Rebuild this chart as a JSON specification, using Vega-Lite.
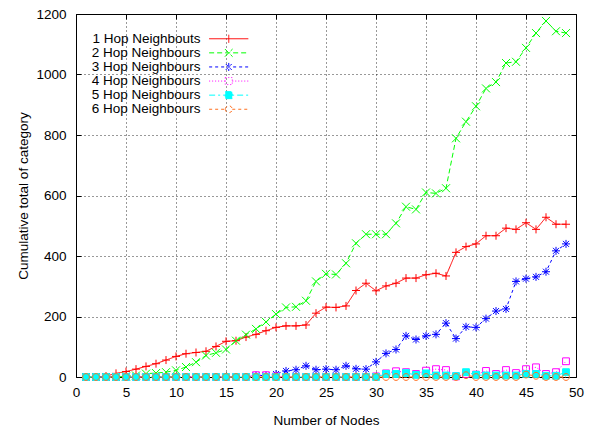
{
  "$schema": "https://vega.github.io/schema/vega-lite/v6.json",
  "width": 500,
  "height": 363,
  "autosize": "none",
  "padding": {"left": 76, "top": 14, "right": 18, "bottom": 53},
  "background": "#ffffff",
  "config": {
    "font": "Liberation Sans",
    "view": {"stroke": "#000000", "strokeWidth": 1},
    "axis": {
      "labelFont": "Liberation Sans",
      "titleFont": "Liberation Sans",
      "labelFontSize": 13.5,
      "titleFontSize": 13.5,
      "titleFontWeight": "normal",
      "labelColor": "#000000",
      "titleColor": "#000000",
      "tickColor": "#000000",
      "domain": false
    }
  },
  "data": {"values": [
    {"s":"1 Hop Neighbouts","n":1,"v":0},{"s":"1 Hop Neighbouts","n":2,"v":0},{"s":"1 Hop Neighbouts","n":3,"v":3},{"s":"1 Hop Neighbouts","n":4,"v":12},{"s":"1 Hop Neighbouts","n":5,"v":18},{"s":"1 Hop Neighbouts","n":6,"v":26},{"s":"1 Hop Neighbouts","n":7,"v":35},{"s":"1 Hop Neighbouts","n":8,"v":44},{"s":"1 Hop Neighbouts","n":9,"v":56},{"s":"1 Hop Neighbouts","n":10,"v":68},
    {"s":"1 Hop Neighbouts","n":11,"v":77},{"s":"1 Hop Neighbouts","n":12,"v":81},{"s":"1 Hop Neighbouts","n":13,"v":85},{"s":"1 Hop Neighbouts","n":14,"v":101},{"s":"1 Hop Neighbouts","n":15,"v":118},{"s":"1 Hop Neighbouts","n":16,"v":120},{"s":"1 Hop Neighbouts","n":17,"v":132},{"s":"1 Hop Neighbouts","n":18,"v":141},{"s":"1 Hop Neighbouts","n":19,"v":153},{"s":"1 Hop Neighbouts","n":20,"v":164},
    {"s":"1 Hop Neighbouts","n":21,"v":169},{"s":"1 Hop Neighbouts","n":22,"v":169},{"s":"1 Hop Neighbouts","n":23,"v":172},{"s":"1 Hop Neighbouts","n":24,"v":211},{"s":"1 Hop Neighbouts","n":25,"v":231},{"s":"1 Hop Neighbouts","n":26,"v":230},{"s":"1 Hop Neighbouts","n":27,"v":235},{"s":"1 Hop Neighbouts","n":28,"v":286},{"s":"1 Hop Neighbouts","n":29,"v":310},{"s":"1 Hop Neighbouts","n":30,"v":285},
    {"s":"1 Hop Neighbouts","n":31,"v":301},{"s":"1 Hop Neighbouts","n":32,"v":310},{"s":"1 Hop Neighbouts","n":33,"v":327},{"s":"1 Hop Neighbouts","n":34,"v":327},{"s":"1 Hop Neighbouts","n":35,"v":338},{"s":"1 Hop Neighbouts","n":36,"v":343},{"s":"1 Hop Neighbouts","n":37,"v":334},{"s":"1 Hop Neighbouts","n":38,"v":412},{"s":"1 Hop Neighbouts","n":39,"v":431},{"s":"1 Hop Neighbouts","n":40,"v":440},
    {"s":"1 Hop Neighbouts","n":41,"v":467},{"s":"1 Hop Neighbouts","n":42,"v":467},{"s":"1 Hop Neighbouts","n":43,"v":492},{"s":"1 Hop Neighbouts","n":44,"v":488},{"s":"1 Hop Neighbouts","n":45,"v":510},{"s":"1 Hop Neighbouts","n":46,"v":488},{"s":"1 Hop Neighbouts","n":47,"v":528},{"s":"1 Hop Neighbouts","n":48,"v":505},{"s":"1 Hop Neighbouts","n":49,"v":505},
    {"s":"2 Hop Neighbours","n":1,"v":0},{"s":"2 Hop Neighbours","n":2,"v":0},{"s":"2 Hop Neighbours","n":3,"v":0},{"s":"2 Hop Neighbours","n":4,"v":0},{"s":"2 Hop Neighbours","n":5,"v":2},{"s":"2 Hop Neighbours","n":6,"v":5},{"s":"2 Hop Neighbours","n":7,"v":11},{"s":"2 Hop Neighbours","n":8,"v":13},{"s":"2 Hop Neighbours","n":9,"v":16},{"s":"2 Hop Neighbours","n":10,"v":22},
    {"s":"2 Hop Neighbours","n":11,"v":33},{"s":"2 Hop Neighbours","n":12,"v":49},{"s":"2 Hop Neighbours","n":13,"v":71},{"s":"2 Hop Neighbours","n":14,"v":80},{"s":"2 Hop Neighbours","n":15,"v":91},{"s":"2 Hop Neighbours","n":16,"v":120},{"s":"2 Hop Neighbours","n":17,"v":140},{"s":"2 Hop Neighbours","n":18,"v":159},{"s":"2 Hop Neighbours","n":19,"v":182},{"s":"2 Hop Neighbours","n":20,"v":208},
    {"s":"2 Hop Neighbours","n":21,"v":230},{"s":"2 Hop Neighbours","n":22,"v":232},{"s":"2 Hop Neighbours","n":23,"v":252},{"s":"2 Hop Neighbours","n":24,"v":316},{"s":"2 Hop Neighbours","n":25,"v":341},{"s":"2 Hop Neighbours","n":26,"v":339},{"s":"2 Hop Neighbours","n":27,"v":376},{"s":"2 Hop Neighbours","n":28,"v":442},{"s":"2 Hop Neighbours","n":29,"v":472},{"s":"2 Hop Neighbours","n":30,"v":472},
    {"s":"2 Hop Neighbours","n":31,"v":472},{"s":"2 Hop Neighbours","n":32,"v":508},{"s":"2 Hop Neighbours","n":33,"v":563},{"s":"2 Hop Neighbours","n":34,"v":554},{"s":"2 Hop Neighbours","n":35,"v":610},{"s":"2 Hop Neighbours","n":36,"v":607},{"s":"2 Hop Neighbours","n":37,"v":624},{"s":"2 Hop Neighbours","n":38,"v":789},{"s":"2 Hop Neighbours","n":39,"v":844},{"s":"2 Hop Neighbours","n":40,"v":895},
    {"s":"2 Hop Neighbours","n":41,"v":954},{"s":"2 Hop Neighbours","n":42,"v":975},{"s":"2 Hop Neighbours","n":43,"v":1038},{"s":"2 Hop Neighbours","n":44,"v":1042},{"s":"2 Hop Neighbours","n":45,"v":1088},{"s":"2 Hop Neighbours","n":46,"v":1137},{"s":"2 Hop Neighbours","n":47,"v":1177},{"s":"2 Hop Neighbours","n":48,"v":1143},{"s":"2 Hop Neighbours","n":49,"v":1137},
    {"s":"3 Hop Neighbours","n":1,"v":0},{"s":"3 Hop Neighbours","n":2,"v":0},{"s":"3 Hop Neighbours","n":3,"v":0},{"s":"3 Hop Neighbours","n":4,"v":0},{"s":"3 Hop Neighbours","n":5,"v":0},{"s":"3 Hop Neighbours","n":6,"v":0},{"s":"3 Hop Neighbours","n":7,"v":0},{"s":"3 Hop Neighbours","n":8,"v":0},{"s":"3 Hop Neighbours","n":9,"v":0},{"s":"3 Hop Neighbours","n":10,"v":0},
    {"s":"3 Hop Neighbours","n":11,"v":0},{"s":"3 Hop Neighbours","n":12,"v":0},{"s":"3 Hop Neighbours","n":13,"v":0},{"s":"3 Hop Neighbours","n":14,"v":0},{"s":"3 Hop Neighbours","n":15,"v":0},{"s":"3 Hop Neighbours","n":16,"v":0},{"s":"3 Hop Neighbours","n":17,"v":0},{"s":"3 Hop Neighbours","n":18,"v":5},{"s":"3 Hop Neighbours","n":19,"v":5},{"s":"3 Hop Neighbours","n":20,"v":10},
    {"s":"3 Hop Neighbours","n":21,"v":20},{"s":"3 Hop Neighbours","n":22,"v":24},{"s":"3 Hop Neighbours","n":23,"v":37},{"s":"3 Hop Neighbours","n":24,"v":24},{"s":"3 Hop Neighbours","n":25,"v":26},{"s":"3 Hop Neighbours","n":26,"v":24},{"s":"3 Hop Neighbours","n":27,"v":37},{"s":"3 Hop Neighbours","n":28,"v":27},{"s":"3 Hop Neighbours","n":29,"v":26},{"s":"3 Hop Neighbours","n":30,"v":50},
    {"s":"3 Hop Neighbours","n":31,"v":78},{"s":"3 Hop Neighbours","n":32,"v":91},{"s":"3 Hop Neighbours","n":33,"v":136},{"s":"3 Hop Neighbours","n":34,"v":124},{"s":"3 Hop Neighbours","n":35,"v":136},{"s":"3 Hop Neighbours","n":36,"v":141},{"s":"3 Hop Neighbours","n":37,"v":178},{"s":"3 Hop Neighbours","n":38,"v":127},{"s":"3 Hop Neighbours","n":39,"v":166},{"s":"3 Hop Neighbours","n":40,"v":164},
    {"s":"3 Hop Neighbours","n":41,"v":193},{"s":"3 Hop Neighbours","n":42,"v":218},{"s":"3 Hop Neighbours","n":43,"v":225},{"s":"3 Hop Neighbours","n":44,"v":316},{"s":"3 Hop Neighbours","n":45,"v":325},{"s":"3 Hop Neighbours","n":46,"v":331},{"s":"3 Hop Neighbours","n":47,"v":348},{"s":"3 Hop Neighbours","n":48,"v":417},{"s":"3 Hop Neighbours","n":49,"v":440},
    {"s":"4 Hop Neighbours","n":1,"v":0},{"s":"4 Hop Neighbours","n":2,"v":0},{"s":"4 Hop Neighbours","n":3,"v":0},{"s":"4 Hop Neighbours","n":4,"v":0},{"s":"4 Hop Neighbours","n":5,"v":0},{"s":"4 Hop Neighbours","n":6,"v":0},{"s":"4 Hop Neighbours","n":7,"v":0},{"s":"4 Hop Neighbours","n":8,"v":0},{"s":"4 Hop Neighbours","n":9,"v":0},{"s":"4 Hop Neighbours","n":10,"v":0},
    {"s":"4 Hop Neighbours","n":11,"v":0},{"s":"4 Hop Neighbours","n":12,"v":0},{"s":"4 Hop Neighbours","n":13,"v":0},{"s":"4 Hop Neighbours","n":14,"v":0},{"s":"4 Hop Neighbours","n":15,"v":0},{"s":"4 Hop Neighbours","n":16,"v":0},{"s":"4 Hop Neighbours","n":17,"v":0},{"s":"4 Hop Neighbours","n":18,"v":6},{"s":"4 Hop Neighbours","n":19,"v":6},{"s":"4 Hop Neighbours","n":20,"v":2},
    {"s":"4 Hop Neighbours","n":21,"v":0},{"s":"4 Hop Neighbours","n":22,"v":0},{"s":"4 Hop Neighbours","n":23,"v":0},{"s":"4 Hop Neighbours","n":24,"v":0},{"s":"4 Hop Neighbours","n":25,"v":0},{"s":"4 Hop Neighbours","n":26,"v":0},{"s":"4 Hop Neighbours","n":27,"v":0},{"s":"4 Hop Neighbours","n":28,"v":0},{"s":"4 Hop Neighbours","n":29,"v":0},{"s":"4 Hop Neighbours","n":30,"v":2},
    {"s":"4 Hop Neighbours","n":31,"v":12},{"s":"4 Hop Neighbours","n":32,"v":19},{"s":"4 Hop Neighbours","n":33,"v":16},{"s":"4 Hop Neighbours","n":34,"v":10},{"s":"4 Hop Neighbours","n":35,"v":21},{"s":"4 Hop Neighbours","n":36,"v":26},{"s":"4 Hop Neighbours","n":37,"v":23},{"s":"4 Hop Neighbours","n":38,"v":2},{"s":"4 Hop Neighbours","n":39,"v":10},{"s":"4 Hop Neighbours","n":40,"v":8},
    {"s":"4 Hop Neighbours","n":41,"v":20},{"s":"4 Hop Neighbours","n":42,"v":10},{"s":"4 Hop Neighbours","n":43,"v":23},{"s":"4 Hop Neighbours","n":44,"v":13},{"s":"4 Hop Neighbours","n":45,"v":26},{"s":"4 Hop Neighbours","n":46,"v":32},{"s":"4 Hop Neighbours","n":47,"v":10},{"s":"4 Hop Neighbours","n":48,"v":16},{"s":"4 Hop Neighbours","n":49,"v":52},
    {"s":"5 Hop Neighbours","n":1,"v":0},{"s":"5 Hop Neighbours","n":2,"v":0},{"s":"5 Hop Neighbours","n":3,"v":0},{"s":"5 Hop Neighbours","n":4,"v":0},{"s":"5 Hop Neighbours","n":5,"v":0},{"s":"5 Hop Neighbours","n":6,"v":0},{"s":"5 Hop Neighbours","n":7,"v":0},{"s":"5 Hop Neighbours","n":8,"v":0},{"s":"5 Hop Neighbours","n":9,"v":0},{"s":"5 Hop Neighbours","n":10,"v":0},
    {"s":"5 Hop Neighbours","n":11,"v":0},{"s":"5 Hop Neighbours","n":12,"v":0},{"s":"5 Hop Neighbours","n":13,"v":0},{"s":"5 Hop Neighbours","n":14,"v":0},{"s":"5 Hop Neighbours","n":15,"v":0},{"s":"5 Hop Neighbours","n":16,"v":0},{"s":"5 Hop Neighbours","n":17,"v":0},{"s":"5 Hop Neighbours","n":18,"v":0},{"s":"5 Hop Neighbours","n":19,"v":0},{"s":"5 Hop Neighbours","n":20,"v":0},
    {"s":"5 Hop Neighbours","n":21,"v":0},{"s":"5 Hop Neighbours","n":22,"v":0},{"s":"5 Hop Neighbours","n":23,"v":0},{"s":"5 Hop Neighbours","n":24,"v":0},{"s":"5 Hop Neighbours","n":25,"v":0},{"s":"5 Hop Neighbours","n":26,"v":0},{"s":"5 Hop Neighbours","n":27,"v":0},{"s":"5 Hop Neighbours","n":28,"v":0},{"s":"5 Hop Neighbours","n":29,"v":0},{"s":"5 Hop Neighbours","n":30,"v":0},
    {"s":"5 Hop Neighbours","n":31,"v":10},{"s":"5 Hop Neighbours","n":32,"v":10},{"s":"5 Hop Neighbours","n":33,"v":13},{"s":"5 Hop Neighbours","n":34,"v":7},{"s":"5 Hop Neighbours","n":35,"v":12},{"s":"5 Hop Neighbours","n":36,"v":5},{"s":"5 Hop Neighbours","n":37,"v":5},{"s":"5 Hop Neighbours","n":38,"v":3},{"s":"5 Hop Neighbours","n":39,"v":16},{"s":"5 Hop Neighbours","n":40,"v":7},
    {"s":"5 Hop Neighbours","n":41,"v":5},{"s":"5 Hop Neighbours","n":42,"v":5},{"s":"5 Hop Neighbours","n":43,"v":5},{"s":"5 Hop Neighbours","n":44,"v":5},{"s":"5 Hop Neighbours","n":45,"v":10},{"s":"5 Hop Neighbours","n":46,"v":10},{"s":"5 Hop Neighbours","n":47,"v":4},{"s":"5 Hop Neighbours","n":48,"v":4},{"s":"5 Hop Neighbours","n":49,"v":16},
    {"s":"6 Hop Neighbours","n":1,"v":0},{"s":"6 Hop Neighbours","n":2,"v":0},{"s":"6 Hop Neighbours","n":3,"v":0},{"s":"6 Hop Neighbours","n":4,"v":0},{"s":"6 Hop Neighbours","n":5,"v":0},{"s":"6 Hop Neighbours","n":6,"v":0},{"s":"6 Hop Neighbours","n":7,"v":0},{"s":"6 Hop Neighbours","n":8,"v":0},{"s":"6 Hop Neighbours","n":9,"v":0},{"s":"6 Hop Neighbours","n":10,"v":0},
    {"s":"6 Hop Neighbours","n":11,"v":0},{"s":"6 Hop Neighbours","n":12,"v":0},{"s":"6 Hop Neighbours","n":13,"v":0},{"s":"6 Hop Neighbours","n":14,"v":0},{"s":"6 Hop Neighbours","n":15,"v":0},{"s":"6 Hop Neighbours","n":16,"v":0},{"s":"6 Hop Neighbours","n":17,"v":0},{"s":"6 Hop Neighbours","n":18,"v":0},{"s":"6 Hop Neighbours","n":19,"v":0},{"s":"6 Hop Neighbours","n":20,"v":0},
    {"s":"6 Hop Neighbours","n":21,"v":0},{"s":"6 Hop Neighbours","n":22,"v":0},{"s":"6 Hop Neighbours","n":23,"v":0},{"s":"6 Hop Neighbours","n":24,"v":0},{"s":"6 Hop Neighbours","n":25,"v":0},{"s":"6 Hop Neighbours","n":26,"v":0},{"s":"6 Hop Neighbours","n":27,"v":0},{"s":"6 Hop Neighbours","n":28,"v":0},{"s":"6 Hop Neighbours","n":29,"v":0},{"s":"6 Hop Neighbours","n":30,"v":0},
    {"s":"6 Hop Neighbours","n":31,"v":0},{"s":"6 Hop Neighbours","n":32,"v":0},{"s":"6 Hop Neighbours","n":33,"v":0},{"s":"6 Hop Neighbours","n":34,"v":0},{"s":"6 Hop Neighbours","n":35,"v":0},{"s":"6 Hop Neighbours","n":36,"v":0},{"s":"6 Hop Neighbours","n":37,"v":0},{"s":"6 Hop Neighbours","n":38,"v":0},{"s":"6 Hop Neighbours","n":39,"v":6},{"s":"6 Hop Neighbours","n":40,"v":0},
    {"s":"6 Hop Neighbours","n":41,"v":0},{"s":"6 Hop Neighbours","n":42,"v":0},{"s":"6 Hop Neighbours","n":43,"v":0},{"s":"6 Hop Neighbours","n":44,"v":0},{"s":"6 Hop Neighbours","n":45,"v":8},{"s":"6 Hop Neighbours","n":46,"v":4},{"s":"6 Hop Neighbours","n":47,"v":0},{"s":"6 Hop Neighbours","n":48,"v":0},{"s":"6 Hop Neighbours","n":49,"v":0}
  ]},
  "layer": [
    {
      "mark": {"type": "line", "strokeWidth": 1},
      "encoding": {
        "x": {"field": "n", "type": "quantitative",
          "scale": {"domain": [0, 50], "nice": false, "zero": false},
          "axis": {"orient": "bottom", "title": "Number of Nodes", "values": [0,5,10,15,20,25,30,35,40,45,50], "format": "d",
            "grid": true, "gridColor": "#000000", "gridDash": [1, 3], "gridOpacity": 0.8,
            "tickSize": -5, "labelPadding": 13, "titlePadding": 15, "labelFlush": false}},
        "y": {"field": "v", "type": "quantitative",
          "scale": {"domain": [0, 1200], "nice": false},
          "axis": {"orient": "left", "title": "Cumulative total of category", "values": [0,200,400,600,800,1000,1200], "format": "d",
            "grid": true, "gridColor": "#000000", "gridDash": [1, 3], "gridOpacity": 0.8,
            "tickSize": -5, "labelPadding": 15, "titlePadding": 5, "labelFlush": false}},
        "stroke": {"field": "s", "type": "nominal", "legend": null,
          "scale": {"domain": ["1 Hop Neighbouts","2 Hop Neighbours","3 Hop Neighbours","4 Hop Neighbours","5 Hop Neighbours","6 Hop Neighbours"],
            "range": ["#ff0000","#00ff00","#0000ff","#ff00ff","#00ffff","#ff7020"]}},
        "strokeDash": {"field": "s", "type": "nominal", "legend": null,
          "scale": {"domain": ["1 Hop Neighbouts","2 Hop Neighbours","3 Hop Neighbours","4 Hop Neighbours","5 Hop Neighbours","6 Hop Neighbours"],
            "range": [[1,0],[5,3],[3,3],[1,2],[6,3,2,3],[3,3]]}}
      }
    },
    {
      "mark": {"type": "point", "filled": false, "strokeWidth": 1, "size": 64, "opacity": 1},
      "encoding": {
        "x": {"field": "n", "type": "quantitative",
          "axis": {"orient": "top", "title": null, "labels": false, "grid": false, "values": [0,5,10,15,20,25,30,35,40,45,50], "tickSize": -5}},
        "y": {"field": "v", "type": "quantitative",
          "axis": {"orient": "right", "title": null, "labels": false, "grid": false, "values": [0,200,400,600,800,1000,1200], "tickSize": -5}},
        "stroke": {"field": "s", "type": "nominal", "legend": null,
          "scale": {"domain": ["1 Hop Neighbouts","2 Hop Neighbours","3 Hop Neighbours","4 Hop Neighbours","5 Hop Neighbours","6 Hop Neighbours"],
            "range": ["#ff0000","#00ff00","#0000ff","#ff00ff","#00ffff","#ff7020"]}},
        "fill": {"field": "s", "type": "nominal", "legend": null,
          "scale": {"domain": ["1 Hop Neighbouts","2 Hop Neighbours","3 Hop Neighbours","4 Hop Neighbours","5 Hop Neighbours","6 Hop Neighbours"],
            "range": ["transparent","transparent","transparent","transparent","#00ffff","transparent"]}},
        "shape": {"field": "s", "type": "nominal", "legend": null,
          "scale": {"domain": ["1 Hop Neighbouts","2 Hop Neighbours","3 Hop Neighbours","4 Hop Neighbours","5 Hop Neighbours","6 Hop Neighbours"],
            "range": ["M-1,0L1,0M0,-1L0,1","M-1,-1L1,1M-1,1L1,-1","M-1,0L1,0M0,-1L0,1M-0.75,-0.75L0.75,0.75M-0.75,0.75L0.75,-0.75","M-0.85,-0.85L0.85,-0.85L0.85,0.85L-0.85,0.85Z","M-0.85,-0.85L0.85,-0.85L0.85,0.85L-0.85,0.85Z","M-0.85,0A0.85,0.85 0 1,0 0.85,0A0.85,0.85 0 1,0 -0.85,0"]}}
      }
    },
    {
      "transform": [{"filter": "datum.n < 0"}],
      "mark": {"type": "point", "filled": false, "strokeWidth": 1, "size": 49, "opacity": 1},
      "encoding": {
        "x": {"field": "n", "type": "quantitative", "axis": null},
        "y": {"field": "v", "type": "quantitative", "axis": null},
        "stroke": {"field": "s", "type": "nominal",
          "scale": {"domain": ["1 Hop Neighbouts","2 Hop Neighbours","3 Hop Neighbours","4 Hop Neighbours","5 Hop Neighbours","6 Hop Neighbours"],
            "range": ["#ff0000","#00ff00","#0000ff","#ff00ff","#00ffff","#ff7020"]},
          "legend": {
            "orient": "none", "legendX": 146, "legendY": 18, "title": null,
            "padding": 0, "rowPadding": -0.9, "symbolSize": 49, "symbolStrokeWidth": 1, "symbolOpacity": 1,
            "labelAlign": "right", "labelOffset": -35,
            "labelFont": "Liberation Sans", "labelFontSize": 13.5, "labelColor": "#000000", "labelLimit": 0
          }},
        "strokeDash": {"field": "s", "type": "nominal",
          "scale": {"domain": ["1 Hop Neighbouts","2 Hop Neighbours","3 Hop Neighbours","4 Hop Neighbours","5 Hop Neighbours","6 Hop Neighbours"],
            "range": [[1,0],[5,3],[3,3],[1,2],[6,3,2,3],[3,3]]}},
        "fill": {"field": "s", "type": "nominal",
          "scale": {"domain": ["1 Hop Neighbouts","2 Hop Neighbours","3 Hop Neighbours","4 Hop Neighbours","5 Hop Neighbours","6 Hop Neighbours"],
            "range": ["transparent","transparent","transparent","transparent","#00ffff","transparent"]}},
        "shape": {"field": "s", "type": "nominal",
          "scale": {"domain": ["1 Hop Neighbouts","2 Hop Neighbours","3 Hop Neighbours","4 Hop Neighbours","5 Hop Neighbours","6 Hop Neighbours"],
            "range": ["M-5.6,0L5.6,0M0,-1.15L0,1.15","M-5.6,0L5.6,0M-1.1,-1.1L1.1,1.1M-1.1,1.1L1.1,-1.1","M-5.6,0L5.6,0M0,-1.15L0,1.15M-0.85,-0.85L0.85,0.85M-0.85,0.85L0.85,-0.85","M-5.6,0L-1,0M1,0L5.6,0M-1,-1L1,-1L1,1L-1,1Z","M-5.6,0L5.6,0M-1,-1L1,-1L1,1L-1,1Z","M-5.6,0L-1,0M1,0L5.6,0M-1,0A1,1 0 1,0 1,0A1,1 0 1,0 -1,0"]}}
      }
    }
  ],
  "resolve": {
    "axis": {"x": "independent", "y": "independent"},
    "scale": {"stroke": "independent", "strokeDash": "independent", "fill": "independent", "shape": "independent"}
  }
}
